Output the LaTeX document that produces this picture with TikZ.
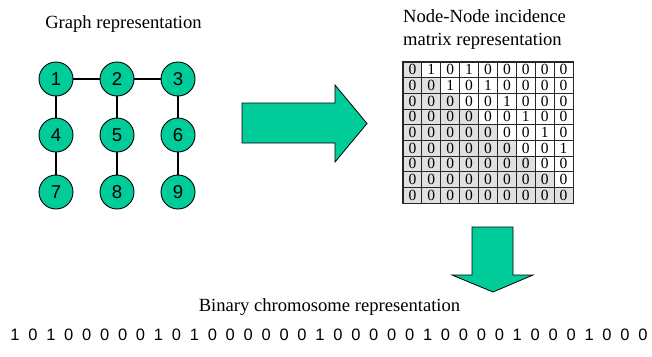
\documentclass[tikz,border=0pt]{standalone}
\usepackage{fontspec}
\setmainfont{Liberation Serif}
\newfontfamily\arialf{Liberation Sans}
\definecolor{tealg}{RGB}{0,204,153}
\begin{document}
\begin{tikzpicture}[x=1pt,y=-1pt,
  gnode/.style={circle,draw=black,line width=0.9pt,fill=tealg,minimum size=34pt,inner sep=0pt,font=\arialf\fontsize{18.6}{20}\selectfont},
  gedge/.style={line width=1.1pt,black},
  title/.style={font=\fontsize{18.6}{20}\selectfont,inner sep=0pt},
  cellbox/.style={draw=black!85,line width=1pt,minimum width=18.89pt,minimum height=15.67pt,inner sep=0pt,font=\fontsize{15.5}{15.5}\selectfont},
  bit/.style={font=\arialf\fontsize{16.5}{17}\selectfont,inner sep=0pt,anchor=base},
  blockarrow/.style={draw=black,line width=0.8pt,fill=tealg,line join=miter}]
\useasboundingbox (0,0) rectangle (652,356);

% titles
\node[title,anchor=base] (tg) at (123.5,28) {Graph representation};
\node[title,anchor=base west] (tm1) at (403,22) {Node-Node incidence};
\node[title,anchor=base west] (tm2) at (403,45) {matrix representation};
\node[title,anchor=base] (tb) at (329.5,311) {Binary chromosome representation};

% graph
\foreach \n/\x/\y in {1/56/79,2/117/79,3/178/79,4/56/135,5/117/135,6/178/135,7/56/192,8/117/192,9/178/192}
  \node[gnode] (n\n) at (\x,\y) {\n};
\foreach \a/\b in {1/2,2/3,1/4,4/7,2/5,5/8,3/6,6/9}
  \draw[gedge] (n\a) -- (n\b);

% right block arrow
\draw[blockarrow] (242,103) -- (335,103) -- (335,85) -- (367,123.5) -- (335,162) -- (335,143) -- (242,143) -- cycle;

% matrix
\foreach \row [count=\i] in {{0,1,0,1,0,0,0,0,0},{0,0,1,0,1,0,0,0,0},{0,0,0,0,0,1,0,0,0},{0,0,0,0,0,0,1,0,0},{0,0,0,0,0,0,0,1,0},{0,0,0,0,0,0,0,0,1},{0,0,0,0,0,0,0,0,0},{0,0,0,0,0,0,0,0,0},{0,0,0,0,0,0,0,0,0}}{
  \foreach \v [count=\j] in \row {
    \ifnum\j>\i \def\fc{white}\else\def\fc{black!12}\fi
    \node[cellbox,fill=\fc] (m-\i-\j) at ({403+18.89*(\j-0.5)},{62+15.67*(\i-0.5)}) {\v};
  }
}
\draw[line width=1.3pt,black!85] (m-1-1.north west) rectangle (m-9-9.south east);

% down block arrow
\draw[blockarrow] (472,227) -- (513,227) -- (513,275) -- (533,275) -- (493,292) -- (452,275) -- (472,275) -- cycle;

% binary chromosome
\foreach \b [count=\k from 0] in {1,0,1,0,0,0,0,0,1,0,1,0,0,0,0,0,0,1,0,0,0,0,0,1,0,0,0,0,1,0,0,0,1,0,0,0}
  \node[bit] (b\k) at ({15+17.94*\k},340) {\b};
\end{tikzpicture}
\end{document}
